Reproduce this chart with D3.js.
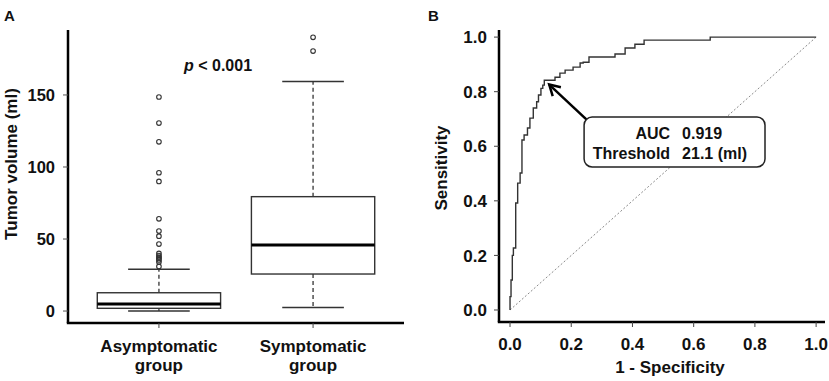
<!DOCTYPE html>
<html>
<head>
<meta charset="utf-8">
<script src="https://cdn.jsdelivr.net/npm/d3@7"></script>
<style>
  html, body { margin: 0; padding: 0; background: #fff; }
  svg { display: block; }
  text { font-family: Arial, "Liberation Sans", sans-serif; font-weight: bold; fill: #111; }
</style>
</head>
<body>
<svg id="chart" width="829" height="381"></svg>
<script>
// ---------- Panel A data ----------
const groups = ["Asymptomatic group", "Symptomatic group"];
const groupLines = [["Asymptomatic", "group"], ["Symptomatic", "group"]];
const whiskerLow  = [0, 2.5];
const q1          = [1.9, 25.7];
const median      = [4.9, 45.8];
const q3          = [12.7, 79.4];
const whiskerHigh = [29, 159.3];
const outliersAsym = [148.6, 130.5, 117.5, 96, 90, 64, 55.5, 52, 46.5, 40, 38.5, 37.5, 36.5, 35.5, 34, 31];
const outliersSym  = [190, 180.5];
const yTicksA = [0, 50, 100, 150];

// ---------- Panel B data ----------
const rocFpr = [0, 0, 0.0033, 0.0075, 0.011, 0.0186, 0.025, 0.033, 0.039, 0.046, 0.057, 0.065, 0.076, 0.087, 0.093, 0.101, 0.107, 0.112, 0.147, 0.163, 0.180, 0.206, 0.229, 0.239, 0.258, 0.343, 0.376, 0.408, 0.438, 0.654, 1.0];
const rocTpr = [0, 0.049, 0.11, 0.20, 0.227, 0.392, 0.465, 0.502, 0.623, 0.641, 0.667, 0.703, 0.740, 0.763, 0.788, 0.812, 0.824, 0.842, 0.853, 0.868, 0.879, 0.890, 0.905, 0.908, 0.927, 0.938, 0.960, 0.974, 0.989, 1.0, 1.0];
const ticksB = [0, 0.2, 0.4, 0.6, 0.8, 1.0];
const aucLabel = ["AUC", "0.919"];
const thrLabel = ["Threshold", "21.1 (ml)"];

const svg = d3.select("#chart");

// ================= Panel A =================
const A = { left: 68, right: 404, top: 30, bottom: 323 };
const xA = d3.scalePoint().domain(groups).range([A.left, A.right]).padding(0.59);
const yA = d3.scaleLinear().domain([-8.3, 195.1]).range([A.bottom, A.top]);
const stepA = xA.step();
const boxW = stepA * 0.8;
const capW = boxW / 2;

const gA = svg.append("g");

// axes (L-shaped frame)
gA.append("line").attr("x1", A.left).attr("x2", A.left).attr("y1", A.top).attr("y2", A.bottom)
  .attr("stroke", "#000").attr("stroke-width", 2.5);
gA.append("line").attr("x1", A.left - 1.2).attr("x2", A.right).attr("y1", A.bottom).attr("y2", A.bottom)
  .attr("stroke", "#000").attr("stroke-width", 2.5);

// y ticks
const yAxisA = gA.append("g");
yTicksA.forEach(t => {
  yAxisA.append("line").attr("x1", A.left - 5).attr("x2", A.left).attr("y1", yA(t)).attr("y2", yA(t))
    .attr("stroke", "#555").attr("stroke-width", 1);
  yAxisA.append("text").attr("x", 55).attr("y", yA(t)).attr("dy", "0.36em")
    .attr("text-anchor", "end").attr("font-size", 16.5).text(t);
});

// x ticks + labels
groups.forEach((g, i) => {
  gA.append("line").attr("x1", xA(g)).attr("x2", xA(g)).attr("y1", A.bottom).attr("y2", A.bottom + 5)
    .attr("stroke", "#444").attr("stroke-width", 1);
  gA.append("text").attr("text-anchor", "middle").attr("font-size", 17)
    .attr("x", xA(g)).attr("y", 352).text(groupLines[i][0]);
  gA.append("text").attr("text-anchor", "middle").attr("font-size", 17)
    .attr("x", xA(g)).attr("y", 371).text(groupLines[i][1]);
});

// y axis title
gA.append("text").attr("transform", `translate(17,164) rotate(-90)`)
  .attr("text-anchor", "middle").attr("font-size", 17).text("Tumor volume (ml)");

// boxes
groups.forEach((g, i) => {
  const cx = xA(g);
  const bg = gA.append("g");
  bg.append("line").attr("x1", cx).attr("x2", cx).attr("y1", yA(q3[i])).attr("y2", yA(whiskerHigh[i]))
    .attr("stroke", "#333").attr("stroke-width", 1.3).attr("stroke-dasharray", "4,3");
  bg.append("line").attr("x1", cx).attr("x2", cx).attr("y1", yA(q1[i])).attr("y2", yA(whiskerLow[i]))
    .attr("stroke", "#333").attr("stroke-width", 1.3).attr("stroke-dasharray", "4,3");
  [whiskerHigh[i], whiskerLow[i]].forEach(v => {
    bg.append("line").attr("x1", cx - capW / 2).attr("x2", cx + capW / 2).attr("y1", yA(v)).attr("y2", yA(v))
      .attr("stroke", "#333").attr("stroke-width", 1.4);
  });
  bg.append("rect").attr("x", cx - boxW / 2).attr("width", boxW)
    .attr("y", yA(q3[i])).attr("height", yA(q1[i]) - yA(q3[i]))
    .attr("fill", "#fff").attr("stroke", "#333").attr("stroke-width", 1.4);
  bg.append("line").attr("x1", cx - boxW / 2).attr("x2", cx + boxW / 2).attr("y1", yA(median[i])).attr("y2", yA(median[i]))
    .attr("stroke", "#000").attr("stroke-width", 3);
  const outs = i === 0 ? outliersAsym : outliersSym;
  bg.selectAll("circle").data(outs).enter().append("circle")
    .attr("cx", cx).attr("cy", d => yA(d)).attr("r", 2.3)
    .attr("fill", "none").attr("stroke", "#333").attr("stroke-width", 1.1);
});

// p-value
const pt = gA.append("text").attr("x", 218).attr("y", 71).attr("text-anchor", "middle").attr("font-size", 16);
pt.append("tspan").attr("font-style", "italic").text("p");
pt.append("tspan").text(" < 0.001");

svg.append("text").attr("x", 4).attr("y", 21).attr("font-size", 15).text("A");

// ================= Panel B =================
const B = { left: 499, right: 825, top: 30, bottom: 322 };
const xB = d3.scaleLinear().domain([-0.036, 1.029]).range([B.left, B.right]);
const yB = d3.scaleLinear().domain([-0.044, 1.026]).range([B.bottom, B.top]);
const gB = svg.append("g");

gB.append("line").attr("x1", B.left).attr("x2", B.left).attr("y1", B.top).attr("y2", B.bottom)
  .attr("stroke", "#000").attr("stroke-width", 2.5);
gB.append("line").attr("x1", B.left - 1.2).attr("x2", B.right).attr("y1", B.bottom).attr("y2", B.bottom)
  .attr("stroke", "#000").attr("stroke-width", 2.5);

const fmt = d3.format(".1f");
ticksB.forEach(t => {
  gB.append("line").attr("x1", B.left - 5).attr("x2", B.left).attr("y1", yB(t)).attr("y2", yB(t))
    .attr("stroke", "#444").attr("stroke-width", 1);
  gB.append("text").attr("x", 487).attr("y", yB(t)).attr("dy", "0.36em")
    .attr("text-anchor", "end").attr("font-size", 17).text(fmt(t));
  gB.append("line").attr("x1", xB(t)).attr("x2", xB(t)).attr("y1", B.bottom).attr("y2", B.bottom + 5)
    .attr("stroke", "#444").attr("stroke-width", 1);
  gB.append("text").attr("x", xB(t)).attr("y", 350)
    .attr("text-anchor", "middle").attr("font-size", 17).text(fmt(t));
});

gB.append("text").attr("x", 670).attr("y", 373).attr("text-anchor", "middle").attr("font-size", 17)
  .text("1 - Specificity");
gB.append("text").attr("transform", `translate(447,168) rotate(-90)`)
  .attr("text-anchor", "middle").attr("font-size", 17).text("Sensitivity");

// diagonal reference
gB.append("line").attr("x1", xB(0)).attr("y1", yB(0)).attr("x2", xB(1)).attr("y2", yB(1))
  .attr("stroke", "#8a8a8a").attr("stroke-width", 1).attr("stroke-dasharray", "2,2");

// ROC curve
const rocPts = rocFpr.map((f, i) => [f, rocTpr[i]]);
gB.append("path").datum(rocPts)
  .attr("d", d3.line().x(d => xB(d[0])).y(d => yB(d[1])).curve(d3.curveStepAfter))
  .attr("fill", "none").attr("stroke", "#333").attr("stroke-width", 1.4);

// annotation arrow
const tail = [0.252, 0.696], tip = [0.128, 0.826];
const tx = xB(tail[0]), ty = yB(tail[1]), hx = xB(tip[0]), hy = yB(tip[1]);
gB.append("line").attr("x1", tx).attr("y1", ty).attr("x2", hx).attr("y2", hy)
  .attr("stroke", "#000").attr("stroke-width", 2.5);
const ang = Math.atan2(ty - hy, tx - hx);
const hl = 12, ha = Math.PI / 6;
gB.append("path")
  .attr("d", `M${hx + hl * Math.cos(ang + ha)},${hy + hl * Math.sin(ang + ha)} L${hx},${hy} L${hx + hl * Math.cos(ang - ha)},${hy + hl * Math.sin(ang - ha)}`)
  .attr("fill", "none").attr("stroke", "#000").attr("stroke-width", 2.5).attr("stroke-linejoin", "miter");

// annotation box
const bx0 = xB(0.242), bx1 = xB(0.833), by0 = yB(0.707), by1 = yB(0.524);
gB.append("rect").attr("x", bx0).attr("y", by0).attr("width", bx1 - bx0).attr("height", by1 - by0)
  .attr("rx", 8).attr("ry", 8).attr("fill", "#fff").attr("stroke", "#222").attr("stroke-width", 1.5);
const colX = xB(0.523);
[aucLabel, thrLabel].forEach((row, i) => {
  const yy = by0 + 22 + i * 20;
  gB.append("text").attr("x", colX).attr("y", yy).attr("text-anchor", "end").attr("font-size", 16).text(row[0]);
  gB.append("text").attr("x", colX + 12).attr("y", yy).attr("text-anchor", "start").attr("font-size", 16).text(row[1]);
});

svg.append("text").attr("x", 428).attr("y", 21).attr("font-size", 15).text("B");
</script>
</body>
</html>
